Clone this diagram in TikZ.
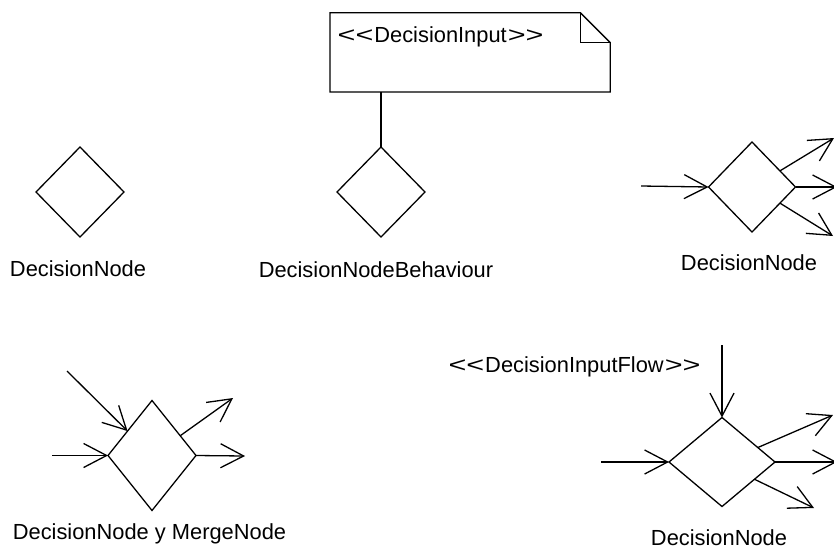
\documentclass[tikz,border=0pt]{standalone}
\usepackage{fontspec}
\usepackage{graphicx}
\newfontfamily\umlfont{Liberation Sans}
\usetikzlibrary{shapes.geometric,arrows.meta}

\newcommand\umlstereo[1]{\scalebox{1.4}[1]{<<}\kern1pt#1\kern1pt\scalebox{1.4}[1]{>>}}

\tikzset{decision/.style = {diamond, draw, inner sep = 0pt, outer sep = 0pt,
                            minimum width = #1, minimum height = 90pt},
         decision/.default=88pt,
         umltext/.style = {anchor = base, inner sep = 0pt},
         flow/.style = {-{Straight Barb[length=23pt, width=24pt]}}
        }

\begin{document}
\begin{tikzpicture}[x=1pt, y=-1pt, line width=1.3pt,
                    font=\umlfont\fontsize{21.85}{26}\selectfont]
  \useasboundingbox (0,0) rectangle (834,552);

  \node[decision] (d1) at (80,192) {};
  \node[decision] (d2) at (381,192) {};
  \node[decision=87pt] (d3) at (752,187) {};
  \node[decision, minimum height=110pt] (d4) at (152,455.5) {};
  \node[decision=106pt, minimum height=89pt] (d5) at (722,462) {};

  \node[umltext] (t1) at (78,276.7) {DecisionNode};
  \node[umltext] (t2) at (376,277) {DecisionNodeBehaviour};
  \node[umltext] (t3) at (749,270.7) {DecisionNode};
  \node[umltext] (t4) at (149.5,539.3) {DecisionNode y MergeNode};
  \node[umltext] (t5) at (719,545) {DecisionNode};

  \node[minimum width=279pt, minimum height=78pt, inner sep=0pt,
        anchor=north west] (note) at (330,12.7) {};
  \draw (note.north west) -- ([xshift=-30pt]note.north east)
        -- ([yshift=-30pt]note.north east) -- (note.south east)
        -- (note.south west) -- cycle;
  \draw ([xshift=-30pt]note.north east) |- ([yshift=-30pt]note.north east);
  \node[umltext, anchor=base west] (notetext) at (337,42.7) {\umlstereo{DecisionInput}};
  \draw (note.south -| d2.north) -- (d2.north);

  \coordinate (d3in) at (641,186);
  \coordinate (d3up) at (834,138);
  \coordinate (d3mid) at (837,187);
  \coordinate (d3down) at (833,236);
  \draw[flow] (d3in) -- (d3.west);
  \draw[flow] (d3.30) -- (d3up);
  \draw[flow] (d3.east) -- (d3mid);
  \draw[flow] (d3.-30) -- (d3down);

  \coordinate (d4in) at (52,455.5);
  \coordinate (d4diag) at (67,371);
  \coordinate (d4up) at (233,398);
  \coordinate (d4out) at (245,456);
  \draw[flow] (d4in) -- (d4.west);
  \draw[flow] (d4diag) -- (d4.135);
  \draw[flow] (d4.35) -- (d4up);
  \draw[flow] (d4.east) -- (d4out);

  \node[umltext] (flowtext) at (574.5,372.7) {\umlstereo{DecisionInputFlow}};
  \coordinate (d5top) at (722,345);
  \coordinate (d5in) at (601,462);
  \coordinate (d5up) at (833,415);
  \coordinate (d5mid) at (837,462);
  \coordinate (d5down) at (814,508);
  \draw[flow] (d5top) -- (d5.north);
  \draw[flow] (d5in) -- (d5.west);
  \draw[flow] (d5.22) -- (d5up);
  \draw[flow] (d5.east) -- (d5mid);
  \draw[flow] (d5.-28) -- (d5down);
\end{tikzpicture}
\end{document}
